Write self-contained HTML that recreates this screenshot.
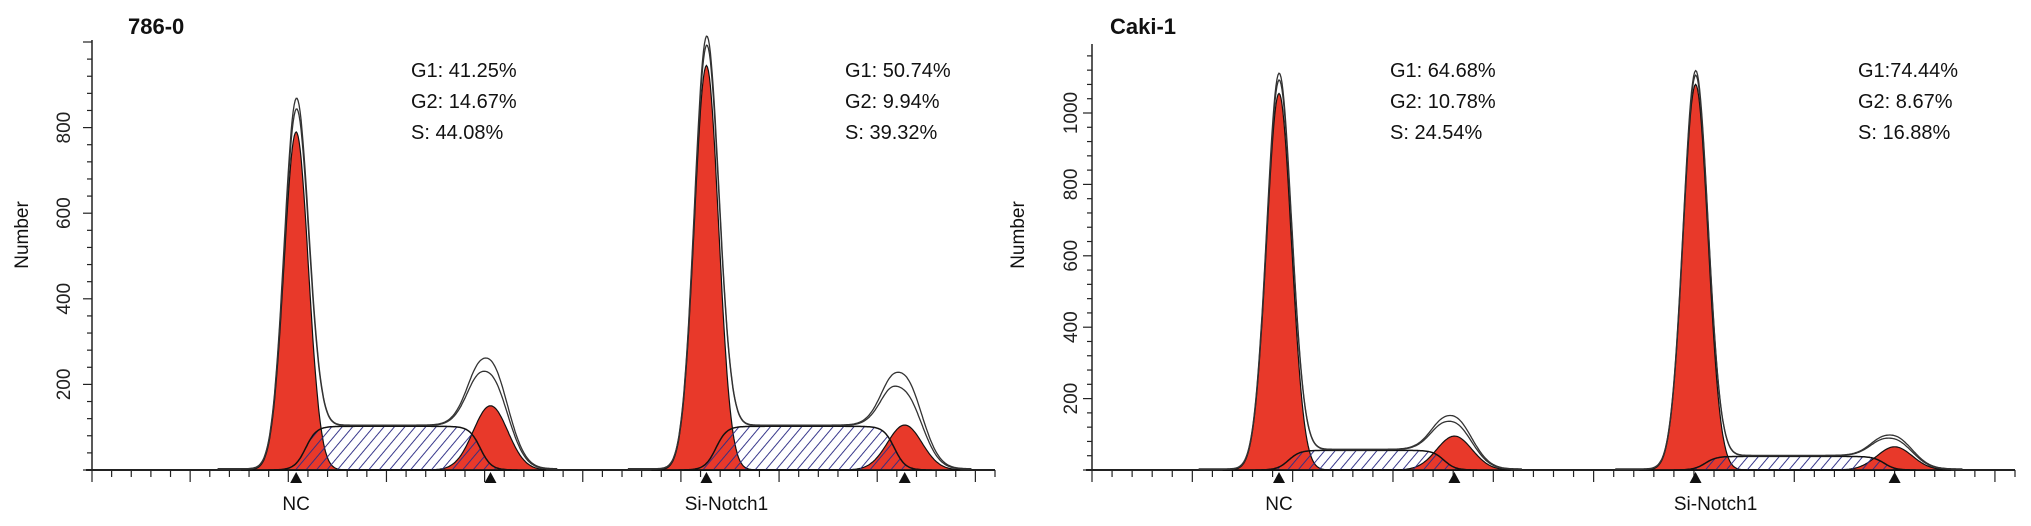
<!DOCTYPE html>
<html><head><meta charset="utf-8">
<style>
html,body{margin:0;padding:0;background:#fff;}
svg{display:block;font-family:"Liberation Sans",Arial,sans-serif;}
</style></head>
<body>
<svg id="chart" width="2031" height="526" viewBox="0 0 2031 526" xmlns="http://www.w3.org/2000/svg">
<defs>
<pattern id="hatch" patternUnits="userSpaceOnUse" width="8" height="8" patternTransform="rotate(40)">
<line x1="0" y1="0" x2="0" y2="8" stroke="#2e2e86" stroke-width="1.9"/>
</pattern>
</defs>
</svg>
<script>
// ---- data ----
const panelTitles = ["786-0", "Caki-1"];
const sampleNames = ["NC", "Si-Notch1"];
const yTicksLeft = [200, 400, 600, 800];
const yTicksRight = [200, 400, 600, 800, 1000];
const g1Pos = [[52, 156.5], [46.6, 150.4]];
const g2Pos = [[101.5, 207], [90.3, 200]];
const g1Height = [[790, 945], [1055, 1080]];
const g2Height = [[150, 105], [95, 65]];
const sHeight = [[102, 102], [55, 38]];
const traceG1 = [[850, 995], [1100, 1110]];
const traceG2 = [[240, 205], [140, 88]];
const statsText = [
  [["G1: 41.25%","G2: 14.67%","S: 44.08%"],["G1: 50.74%","G2: 9.94%","S: 39.32%"]],
  [["G1: 64.68%","G2: 10.78%","S: 24.54%"],["G1:74.44%","G2: 8.67%","S: 16.88%"]]
];
// ---- layout ----
const panels = [
  {x0:92, x1:995, base:470, top:40, pxPerUnit:0.428, ticks:yTicksLeft, titleX:128, statX:[411,845], numX:28, tickLblX:70},
  {x0:1092, x1:2015, base:470, top:44, pxPerUnit:0.357, ticks:yTicksRight, titleX:1110, statX:[1390,1858], numX:1024, tickLblX:1077}
];
const NS = "http://www.w3.org/2000/svg";
const svg = document.getElementById('chart');
function mk(tag, attrs, parent){const e=document.createElementNS(NS,tag);for(const k in attrs)e.setAttribute(k,attrs[k]);(parent||svg).appendChild(e);return e;}
function gauss(c,mu,s){return Math.exp(-0.5*((c-mu)/s)*((c-mu)/s));}
function sig(v){return 1/(1+Math.exp(-v));}

panels.forEach((P,pi)=>{
  const g = mk('g',{});
  
  
  const xs = c => P.x0 + c*(P.x1-P.x0)/230;
  const ys = v => P.base - v*P.pxPerUnit;
  const t = mk('text',{x:P.titleX,y:34,'font-size':22,'font-weight':'bold',fill:'#111'},g);
  t.textContent = panelTitles[pi];
  
  
  const ya = mk('line',{x1:P.x0,y1:P.top,x2:P.x0,y2:P.base,stroke:'#222','stroke-width':1.5},g);
  
  
  for(let v=0; ys(v)>=P.top; v+=40){
    const major = v%200===0;
    mk('line',{x1:P.x0-(major?9:5),y1:ys(v),x2:P.x0,y2:ys(v),stroke:'#222','stroke-width':1.2},g);
  }
  P.ticks.forEach(v=>{
    const tl = mk('text',{x:P.tickLblX,y:ys(v),'font-size':19,fill:'#222','text-anchor':'middle',transform:`rotate(-90 ${P.tickLblX} ${ys(v)})`},g);
    tl.textContent = v;
    
    
  });
  const yt = mk('text',{x:P.numX,y:235,'font-size':19,fill:'#111','text-anchor':'middle',transform:`rotate(-90 ${P.numX} 235)`},g);
  yt.textContent='Number';
  
  
  const xa = mk('line',{x1:P.x0-6,y1:P.base,x2:P.x1,y2:P.base,stroke:'#222','stroke-width':2},g);
  
  
  for(let c=0;c<=230;c+=5){
    const major=c%25===0;
    mk('line',{x1:xs(c),y1:P.base,x2:xs(c),y2:P.base+(major?12:7),stroke:'#222','stroke-width':1.2},g);
  }
  for(let si=0;si<2;si++){
    const mu1=g1Pos[pi][si], mu2=g2Pos[pi][si];
    const s1=3.1, s2=4.4;
    const a=mu1+2.4, b=mu2-2.6, w=1.4;
    const lo=mu1-14, hi=mu2+14;
    const G1=c=>g1Height[pi][si]*gauss(c,mu1,s1);
    const G2=c=>g2Height[pi][si]*gauss(c,mu2,s2);
    const S=c=>sHeight[pi][si]*sig((c-a)/w)*sig((b-c)/w);
    const path=(f)=>{let d=`M${xs(lo)},${P.base}`;for(let c=lo;c<=hi;c+=0.25)d+=` L${xs(c).toFixed(1)},${ys(f(c)).toFixed(1)}`;return d+` L${xs(hi)},${P.base} Z`;};
    const line=(f)=>{let d='';for(let c=lo-6;c<=hi+3;c+=0.25)d+=(d?' L':'M')+`${xs(c).toFixed(1)},${ys(f(c)).toFixed(1)}`;return d;};
    const r1=mk('path',{d:path(G1),fill:'#e8392a',stroke:'#111','stroke-width':1.2},g);
    
    
    const r2=mk('path',{d:path(G2),fill:'#e8392a',stroke:'#111','stroke-width':1.2},g);
    
    
    const sp=mk('path',{d:path(S),fill:'url(#hatch)',stroke:'#111','stroke-width':1.5},g);
    
    
    const k1=traceG1[pi][si]/g1Height[pi][si], k2=traceG2[pi][si]/g2Height[pi][si];
    const tot=c=>G1(c)*k1+S(c)+G2(c)*k2+3;
    const tot2=c=>G1(c)*(1+(k1-1)*0.6)+S(c)+G2(c)*(1+(k2-1)*0.65)+2;
    [tot,tot2].forEach(f=>{
      const tr=mk('path',{d:line(f),fill:'none',stroke:'#333','stroke-width':1.3},g);
      
      
    });
    [mu1,mu2].forEach(m=>{
      const tri=mk('path',{d:`M${xs(m)-6},${P.base+13} L${xs(m)+6},${P.base+13} L${xs(m)},${P.base+2} Z`,fill:'#111'},g);
      
      
    });
    const lbl=mk('text',{x:xs(mu1)+(si===0?0:20),y:510,'font-size':19,fill:'#111','text-anchor':'middle'},g);
    lbl.textContent=sampleNames[si];
    
    
    statsText[pi][si].forEach((s,li)=>{
      const st=mk('text',{x:P.statX[si],y:77+li*31,'font-size':20,fill:'#111'},g);
      st.textContent=s;
      
      
    });
  }
});
</script>
</body></html>
